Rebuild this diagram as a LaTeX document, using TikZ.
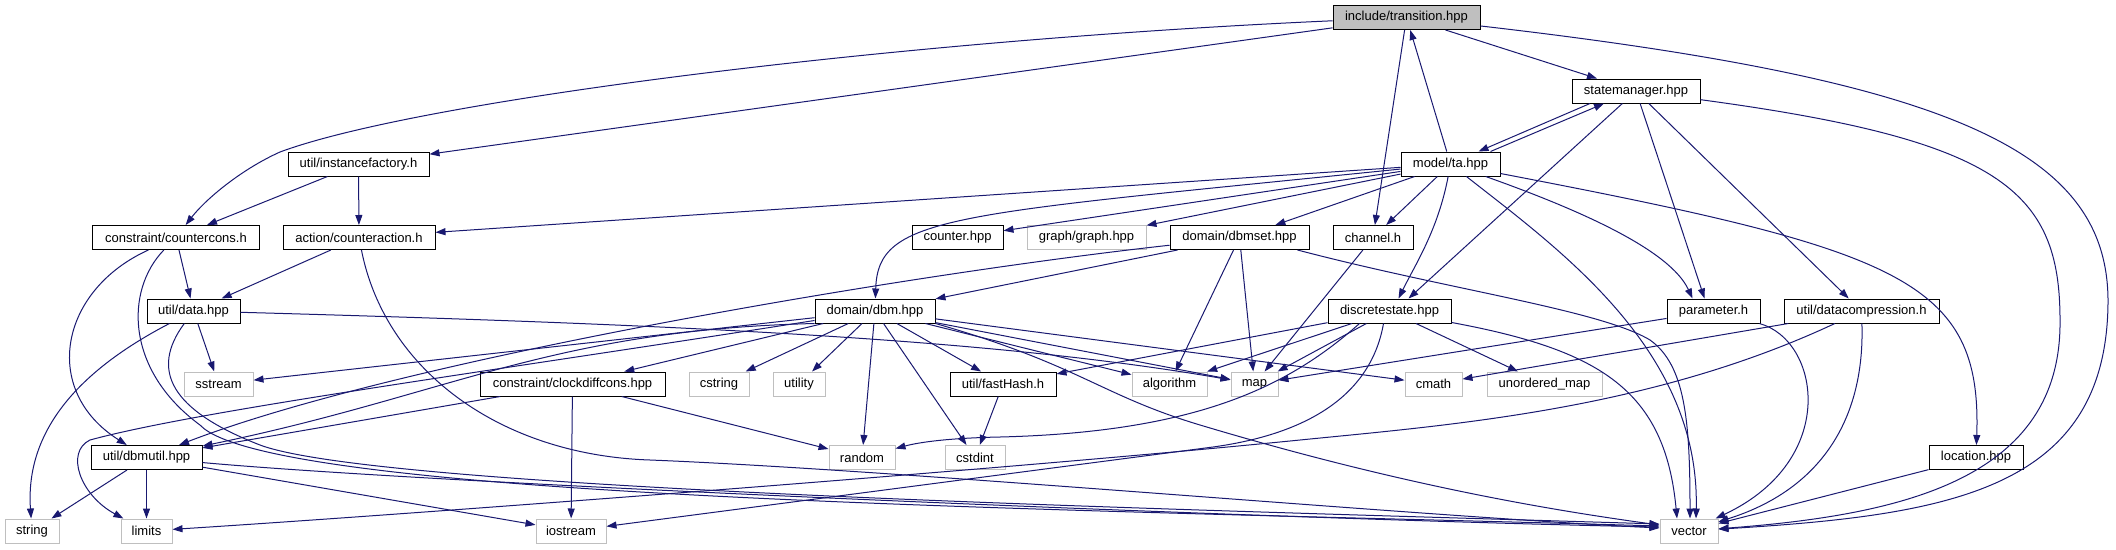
\documentclass[tikz,border=0pt]{standalone}
\usepackage{fontspec}
\setmainfont{Liberation Sans}
\usetikzlibrary{arrows.meta}
\definecolor{edgeblue}{HTML}{191970}
\definecolor{extgray}{HTML}{BFBFBF}
\definecolor{rootgray}{HTML}{BFBFBF}
\tikzset{
  box/.style={draw=black, rectangle, minimum height=24pt, inner sep=0pt, line width=1pt, font=\fontsize{13pt}{15pt}\selectfont},
  ext/.style={box, draw=extgray},
  root/.style={box, fill=rootgray},
  edge/.style={draw=edgeblue, line width=1pt, -{Triangle[length=10pt,width=7pt]}},
}
\begin{document}
\begin{tikzpicture}[x=1pt,y=-1pt]
\useasboundingbox (0,0) rectangle (2116,549);
% nodes
\node[root, minimum width=147pt] (trans) at (1406.5,17.5) {include/transition.hpp};
\node[box, minimum width=128pt] (statemgr) at (1636,91) {statemanager.hpp};
\node[box, minimum width=141pt] (instf) at (358.5,164) {util/instancefactory.h};
\node[box, minimum width=99pt] (ta) at (1450.5,164) {model/ta.hpp};
\node[box, minimum width=167pt] (ccons) at (176,237.5) {constraint/countercons.h};
\node[box, minimum width=152pt] (cact) at (359,237.5) {action/counteraction.h};
\node[box, minimum width=91pt] (counter) at (957.5,237.5) {counter.hpp};
\node[ext, minimum width=119pt] (graph) at (1086.5,237.5) {graph/graph.hpp};
\node[box, minimum width=139pt] (dbmset) at (1239.5,237.5) {domain/dbmset.hpp};
\node[box, minimum width=80pt] (channel) at (1373,237.5) {channel.h};
\node[box, minimum width=93pt] (data) at (193.5,311) {util/data.hpp};
\node[box, minimum width=120pt] (dbm) at (875,311) {domain/dbm.hpp};
\node[box, minimum width=123pt] (dstate) at (1389.5,311) {discretestate.hpp};
\node[box, minimum width=93pt] (param) at (1713.5,311) {parameter.h};
\node[box, minimum width=155pt] (dcomp) at (1861.5,311) {util/datacompression.h};
\node[ext, minimum width=69pt] (sstream) at (218.5,384) {sstream};
\node[box, minimum width=185pt] (cdiff) at (572.5,384) {constraint/clockdiffcons.hpp};
\node[ext, minimum width=60pt] (cstring) at (719,384) {cstring};
\node[ext, minimum width=52pt] (utility) at (799,384) {utility};
\node[box, minimum width=106pt] (fhash) at (1003,384) {util/fastHash.h};
\node[ext, minimum width=75pt] (algo) at (1169.5,384) {algorithm};
\node[ext, minimum width=47pt] (map) at (1254.5,384) {map};
\node[ext, minimum width=57pt] (cmath) at (1433.5,384) {cmath};
\node[ext, minimum width=115pt] (umap) at (1544.5,384) {unordered\_map};
\node[box, minimum width=111pt] (dbmutil) at (146.5,457.5) {util/dbmutil.hpp};
\node[ext, minimum width=66pt] (random) at (862,457.5) {random};
\node[ext, minimum width=60pt] (cstdint) at (975,457.5) {cstdint};
\node[box, minimum width=94pt] (loc) at (1976,457.5) {location.hpp};
\node[ext, minimum width=54pt] (string) at (32,531) {string};
\node[ext, minimum width=51pt] (limits) at (146.5,531) {limits};
\node[ext, minimum width=70pt] (iostream) at (571,531) {iostream};
\node[ext, minimum width=58pt] (vector) at (1689,531) {vector};
% transition
\draw[edge] (trans) .. controls (900,40) and (420,100) .. (280,152) .. controls (240,170) and (205,200) .. (ccons);
\draw[edge] (trans) -- (instf);
\draw[edge] (trans) -- (channel);
\draw[edge] (trans) -- (statemgr);
\draw[edge] (trans) .. controls (1950,80) and (2107,150) .. (2108,300) .. controls (2108,490) and (1950,515) .. (vector);
% statemanager
\draw[edge] ([xshift=-46pt]statemgr.south) -- ([xshift=28pt]ta.north);
\draw[edge] (statemgr) -- ([xshift=19pt]dstate.north);
\draw[edge] (statemgr) -- ([xshift=-9pt]param.north);
\draw[edge] (statemgr) -- (dcomp);
\draw[edge] (statemgr) .. controls (2000,140) and (2060,190) .. (2060,320) .. controls (2062,480) and (1900,515) .. (vector);
% ta
\draw[edge] (ta) -- (trans);
\draw[edge] ([xshift=40pt]ta.north) -- ([xshift=-32pt]statemgr.south);
\draw[edge] (ta) -- (cact);
\draw[edge] (ta) -- (counter);
\draw[edge] (ta) -- (graph);
\draw[edge] (ta) -- (dbmset);
\draw[edge] (ta) -- (channel);
\draw[edge] (ta) .. controls (950,215) and (878,215) .. (dbm);
\draw[edge] (ta) .. controls (1438,230) and (1415,265) .. ([xshift=9pt]dstate.north);
\draw[edge] (ta) .. controls (1580,210) and (1670,250) .. ([xshift=-21pt]param.north);
\draw[edge] (ta) .. controls (1900,250) and (1982,280) .. (loc);
\draw[edge] (ta) .. controls (1560,250) and (1700,350) .. ([xshift=7pt]vector.north);
% instancefactory
\draw[edge] (instf) -- (ccons);
\draw[edge] (instf) -- (cact);
% countercons
\draw[edge] (ccons) -- (data);
\draw[edge] (ccons) .. controls (60,290) and (40,390) .. (dbmutil);
\draw[edge] (ccons) .. controls (125,290) and (125,370) .. (200,425) .. controls (270,500) and (1100,510) .. ([yshift=5pt]vector.west);
% counteraction
\draw[edge] (cact) -- (data);
\draw[edge] (cact) .. controls (385,370) and (500,455) .. (650,460) .. controls (900,470) and (1400,515) .. ([yshift=3pt]vector.west);
% dbmset
\draw[edge] (dbmset) -- (dbm);
\draw[edge] (dbmset) .. controls (900,275) and (400,360) .. (dbmutil);
\draw[edge] (dbmset) -- (algo);
\draw[edge] (dbmset) -- (map);
\draw[edge] ([xshift=-12pt]dbmset.south east) .. controls (1450,290) and (1600,310) .. (1650,340) .. controls (1685,365) and (1690,420) .. ([xshift=1pt]vector.north);
% channel
\draw[edge] (channel) -- (map);
% data
\draw[edge] (data) -- (sstream);
\draw[edge] (data) .. controls (80,370) and (25,430) .. (string);
\draw[edge] (data) .. controls (150,370) and (170,410) .. (260,445) .. controls (380,490) and (1200,510) .. ([yshift=7pt]vector.west);
\draw[edge] (data) .. controls (700,325) and (1000,340) .. (map);
% dbm
\draw[edge] (dbm) -- (sstream);
\draw[edge] (dbm.south west) .. controls (550,330) and (450,395) .. (dbmutil);
\draw[edge] (dbm) .. controls (500,370) and (200,410) .. (90,440) .. controls (65,452) and (80,495) .. (limits);
\draw[edge] (dbm) -- (cdiff);
\draw[edge] (dbm) -- (cstring);
\draw[edge] (dbm) -- (utility);
\draw[edge] (dbm) -- (random);
\draw[edge] (dbm) -- (cstdint);
\draw[edge] (dbm) -- (fhash);
\draw[edge] (dbm) -- (algo);
\draw[edge] (dbm) -- (map);
\draw[edge] (dbm) -- (cmath);
\draw[edge] (dbm.south east) .. controls (1080,365) and (1100,395) .. (1200,425) .. controls (1400,485) and (1550,510) .. ([yshift=6pt]vector.west);
% discretestate
\draw[edge] (dstate) -- (fhash);
\draw[edge] (dstate) -- (algo);
\draw[edge] (dstate) -- (map);
\draw[edge] (dstate) -- (umap);
\draw[edge] ([xshift=-30pt]dstate.south) .. controls (1290,385) and (1200,432) .. (1000,437) .. controls (950,438) and (920,442) .. (random);
\draw[edge] ([xshift=-6pt]dstate.south) .. controls (1370,400) and (1300,435) .. (1213,447) -- (iostream);
\draw[edge] (dstate) .. controls (1600,350) and (1665,390) .. ([xshift=-12pt]vector.north);
% parameter
\draw[edge] (param) -- (map);
\draw[edge] (param) .. controls (1820,340) and (1840,460) .. (vector);
% datacompression
\draw[edge] (dcomp) -- (cmath);
\draw[edge] (dcomp) .. controls (1650,410) and (1450,425) .. (1300,440) .. controls (1000,470) and (400,515) .. (limits);
\draw[edge] (dcomp) .. controls (1865,420) and (1820,490) .. (vector);
% location
\draw[edge] (loc) -- (vector);
% clockdiffcons
\draw[edge] (cdiff) -- (dbmutil);
\draw[edge] (cdiff) -- (iostream);
\draw[edge] (cdiff) -- (random);
% fastHash
\draw[edge] (fhash) -- (cstdint);
% dbmutil
\draw[edge] (dbmutil) -- (string);
\draw[edge] (dbmutil) -- (limits);
\draw[edge] (dbmutil) -- (iostream);
\draw[edge] (dbmutil) .. controls (450,485) and (1300,520) .. ([yshift=4pt]vector.west);
\end{tikzpicture}
\end{document}
